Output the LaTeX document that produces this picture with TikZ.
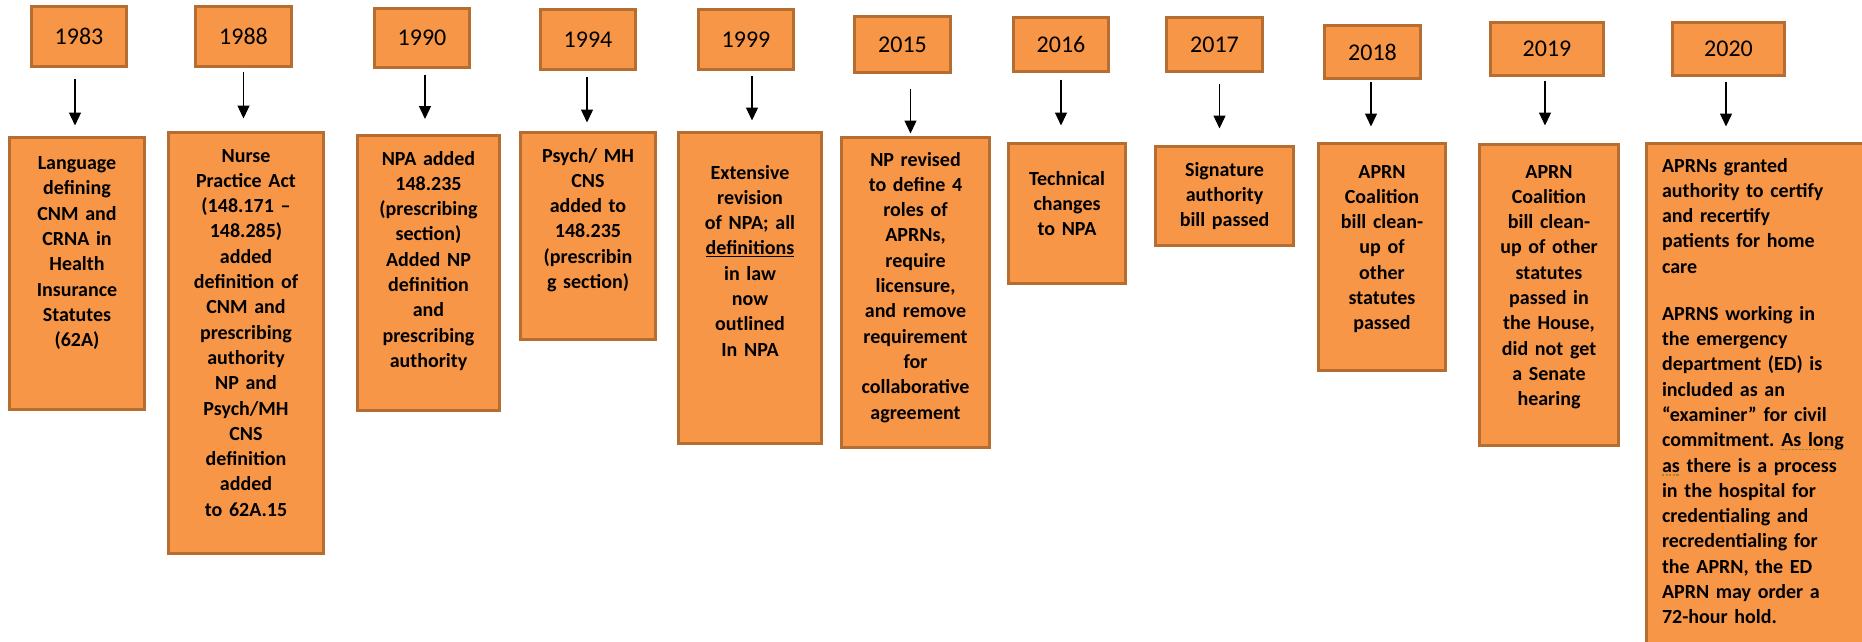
\documentclass[tikz,border=0pt]{standalone}
\usepackage{fontspec}
\setmainfont{Carlito}
\usetikzlibrary{arrows.meta}
\definecolor{boxfill}{HTML}{F79646}
\definecolor{boxline}{HTML}{B66D31}
\definecolor{grammar}{HTML}{9A8A2E}
\newsavebox\gramsbox
\newcommand\gramuline[1]{\leavevmode\sbox\gramsbox{#1}%
  \rlap{\raisebox{-3.5pt}{\textcolor{grammar}{\hbox to \wd\gramsbox{%
    \xleaders\hbox to 3.4pt{\rule{2.2pt}{1.2pt}\hss}\hfill}}}}#1}
\frenchspacing

\tikzset{
  yearbox/.style={draw=boxline, fill=boxfill, line width=3pt, inner sep=0pt,
    font=\fontsize{24pt}{28pt}\selectfont},
  eventbox/.style={draw=boxline, fill=boxfill, line width=3pt, inner xsep=2pt,
    inner ysep=0pt, anchor=base, align=center,
    font=\fontsize{20pt}{25.3pt}\selectfont\bfseries},
  yeararrow/.style={line width=1.3pt, -{Triangle[width=12pt,length=13pt]}}
}

\begin{document}
\begin{tikzpicture}[x=1pt,y=-1pt]
  \useasboundingbox (0,0) rectangle (1862,641);

  % year boxes
  \node[yearbox, minimum width=95pt, minimum height=60pt] (y1983) at (79,36.5) {1983};
  \node[yearbox, minimum width=96pt, minimum height=60pt] (y1988) at (243.5,36.5) {1988};
  \node[yearbox, minimum width=95pt, minimum height=59pt] (y1990) at (422,38) {1990};
  \node[yearbox, minimum width=95pt, minimum height=60pt] (y1994) at (588,39.5) {1994};
  \node[yearbox, minimum width=95pt, minimum height=60pt] (y1999) at (746,39.5) {1999};
  \node[yearbox, minimum width=96pt, minimum height=56pt] (y2015) at (902.5,44.5) {2015};
  \node[yearbox, minimum width=95pt, minimum height=54pt] (y2016) at (1061,44.5) {2016};
  \node[yearbox, minimum width=96pt, minimum height=54pt] (y2017) at (1214.5,44.5) {2017};
  \node[yearbox, minimum width=96pt, minimum height=53pt] (y2018) at (1372.5,52) {2018};
  \node[yearbox, minimum width=113pt, minimum height=53pt] (y2019) at (1547,49) {2019};
  \node[yearbox, minimum width=112pt, minimum height=53pt] (y2020) at (1728.5,49) {2020};

  % event boxes
  \node[eventbox, text width=131pt, text height=32pt, text depth=240pt] (t1983) at (77,169.5)
    {Language\\defining\\CNM and\\CRNA in\\Health\\Insurance\\Statutes\\(62A)};
  \node[eventbox, text width=151pt, text height=29.5pt, text depth=391.5pt] (t1988) at (246,162)
    {Nurse\\Practice Act\\(148.171 –\\148.285)\\added\\definition of\\CNM and\\prescribing\\authority\\NP and\\Psych/MH\\CNS\\definition\\added\\to 62A.15};
  \node[eventbox, text width=138pt, text height=29.5pt, text depth=245.5pt] (t1990) at (428.5,165)
    {NPA added\\148.235\\(prescribing\\section)\\Added NP\\definition\\and\\prescribing\\authority};
  \node[eventbox, text width=131pt, text height=29.5pt, text depth=177.5pt] (t1994) at (588,162)
    {Psych/ MH\\CNS\\added to\\148.235\\(prescribin\\g section)};
  \node[eventbox, text width=139pt, text height=46.5pt, text depth=264.5pt] (t1999) at (750,179)
    {Extensive\\revision\\of NPA; all\\\underline{definitions}\\in law\\now\\outlined\\In NPA};
  \node[eventbox, text width=144pt, text height=28.5pt, text depth=281.5pt] (t2015) at (915.5,166)
    {NP revised\\to define 4\\roles of\\APRNs,\\require\\licensure,\\and remove\\requirement\\for\\collaborative\\agreement};
  \node[eventbox, text width=113pt, text height=41.5pt, text depth=98.5pt] (t2016) at (1067,185)
    {Technical\\changes\\to NPA};
  \node[eventbox, text width=134pt, text height=29.5pt, text depth=69.5pt] (t2017) at (1224.5,176)
    {Signature\\authority\\bill passed};
  \node[eventbox, text width=123pt, text height=34.5pt, text depth=192.5pt] (t2018) at (1382,178)
    {APRN\\Coalition\\bill clean-\\up of\\other\\statutes\\passed};
  \node[eventbox, text width=135pt, text height=33.5pt, text depth=267.5pt] (t2019) at (1549,178)
    {APRN\\Coalition\\bill clean-\\up of other\\statutes\\passed in\\the House,\\did not get\\a Senate\\hearing};
  \node[eventbox, anchor=base west, align=left, inner xsep=16pt, text width=210pt,
    text height=28.5pt, text depth=520pt] (t2020) at (1644.5,172)
    {APRNs granted\\authority to certify\\and recertify\\patients for home\\care\\[21.7pt]
     APRNS working in\\the emergency\\department (ED) is\\included as an\\“examiner” for civil\\
     commitment. \gramuline{As long}\\\gramuline{as} there is a process\\in the hospital for\\
     credentialing and\\recredentialing for\\the APRN, the ED\\APRN may order a\\72-hour hold.};

  % arrows from year to event
  \foreach \yr/\sa/\sb/\dx in {1983/10.5pt/10.5pt/-4pt, 1988/3.5pt/12.5pt/0pt,
      1990/5.5pt/15pt/3pt, 1994/5.5pt/8.5pt/-1pt, 1999/4.5pt/10.5pt/6pt,
      2015/14.5pt/2.5pt/8pt, 2016/6.5pt/16.5pt/0pt, 2017/10.5pt/16.5pt/5pt,
      2018/1.5pt/15.5pt/-1.5pt, 2019/3.5pt/17.5pt/-2pt, 2020/4.5pt/15.5pt/-2.5pt}
    \draw[yeararrow, shorten <=\sa, shorten >=\sb]
      ([xshift=\dx]y\yr.south) -- ([xshift=\dx]y\yr.south |- t\yr.north);
\end{tikzpicture}
\end{document}
